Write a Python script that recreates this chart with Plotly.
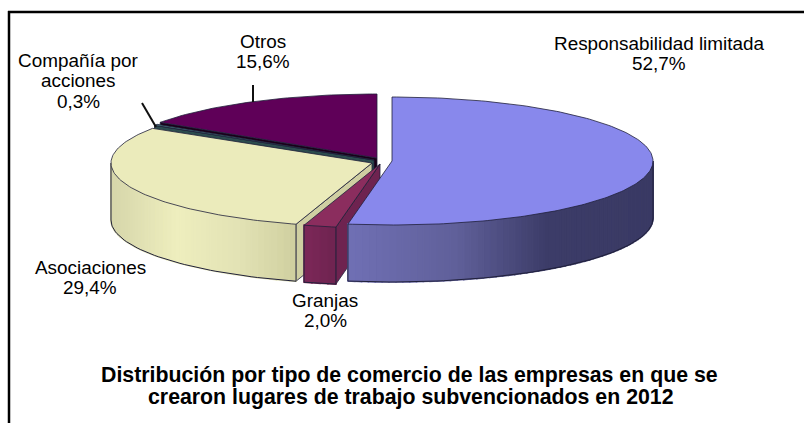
import math
import plotly.graph_objects as go

# ---- data ----
categories = ["Responsabilidad limitada", "Granjas", "Asociaciones", "Compañía por acciones", "Otros"]
shares = [52.7, 2.0, 29.4, 0.3, 15.6]
title_lines = ["Distribución por tipo de comercio de las empresas en que se",
               "crearon lugares de trabajo subvencionados en 2012"]

# ---- styles and layout (separate from the data) ----
W, H = 804, 423
RX, RY, DEPTH = 261.0, 64.0, 57.0
centres = [(392, 161), (380, 164), (372, 163), (374, 160), (377, 158)]
top_colors = ["#8888EC", "#8B2D5E", "#EBEBBB", "#4E8688", "#5F0058"]
radial_colors = ["#3A3A66", "#6E2350", "#CFCFA2", "#2C4C4E", "#1A0018"]
side_stops = [
    [(0.0, "#7070B4"), (0.35, "#60609A"), (0.65, "#3C3C68"), (1.0, "#3A3A64")],
    [(0.0, "#7C2858"), (1.0, "#6E2350")],
    [(0.0, "#D6D6AA"), (0.35, "#EEEEBE"), (0.7, "#E2E2B4"), (1.0, "#CFCF9F")],
    [(0.0, "#2C4C4E"), (1.0, "#2C4C4E")],
    [(0.0, "#2E002A"), (1.0, "#2E002A")],
]
label_lines = [["Responsabilidad limitada", "{}"], ["Granjas", "{}"], ["Asociaciones", "{}"],
               ["Compañía por", "acciones", "{}"], ["Otros", "{}"]]
label_pos = [(659, 43), (325, 300), (90, 267), (78, 60), (263, 41)]
leader_x = [[253, 253], [142, 156]]
leader_y = [[85, 102], [103, 127]]
LABEL_SIZE = 18.9
TITLE_SIZE = 21.3
LINE_GAP = 20.5
FONT = "Liberation Sans"
OUTLINE = "#20203A"


def hex2rgb(h):
    return tuple(int(h[i:i + 2], 16) for i in (1, 3, 5))


def ramp(stops, f):
    for (a, ca), (b, cb) in zip(stops, stops[1:]):
        if f <= b:
            k = (f - a) / (b - a) if b > a else 0
            ra, rb = hex2rgb(ca), hex2rgb(cb)
            return "rgb({},{},{})".format(*[round(u + (v - u) * k) for u, v in zip(ra, rb)])
    return stops[-1][1]


def pt(c, t, dz=0.0):
    return c[0] + RX * math.sin(t), c[1] - RY * math.cos(t) + dz


def arc(c, t0, t1, dz=0.0, step=math.radians(1.0)):
    n = max(2, int(abs(t1 - t0) / step) + 1)
    return [pt(c, t0 + (t1 - t0) * i / (n - 1), dz) for i in range(n)]


def poly(fig, pts, fill, line=None, width=1.0):
    xs = [p[0] for p in pts] + [pts[0][0]]
    ys = [p[1] for p in pts] + [pts[0][1]]
    fig.add_trace(go.Scatter(x=xs, y=ys, mode="lines", fill="toself", fillcolor=fill,
                             line=dict(color=line or fill, width=width),
                             hoverinfo="skip", showlegend=False))


def stroke(fig, pts, color=OUTLINE, width=1.0):
    fig.add_trace(go.Scatter(x=[p[0] for p in pts], y=[p[1] for p in pts], mode="lines",
                             line=dict(color=color, width=width), hoverinfo="skip", showlegend=False))


# slice angles, clockwise from the top
total = sum(shares)
bounds = [0.0]
for v in shares:
    bounds.append(bounds[-1] + v / total * 2 * math.pi)

fig = go.Figure()


def draw_slice(i):
    c = centres[i]
    t0, t1 = bounds[i], bounds[i + 1]
    apex = (c[0], c[1])
    apex_low = (c[0], c[1] + DEPTH)
    # wall on the clockwise-start side of every wedge left of the centre faces the viewer
    if t0 > math.pi / 2 and i != 0:
        a, b = pt(c, t0), pt(c, t0, DEPTH)
        poly(fig, [apex, a, b, apex_low], radial_colors[i], OUTLINE, 0.8)
    # outer rim, front half only
    lo, hi = max(t0, math.pi / 2), min(t1, 3 * math.pi / 2)
    if hi > lo:
        pts = arc(c, lo, hi, step=math.radians(1.5))
        xs = [p[0] for p in pts]
        xmin, xmax = min(xs), max(xs)
        for p, q in zip(pts, pts[1:]):
            f = ((p[0] + q[0]) / 2 - xmin) / max(xmax - xmin, 1e-6)
            col = ramp(side_stops[i], f)
            poly(fig, [p, q, (q[0], q[1] + DEPTH), (p[0], p[1] + DEPTH)], col, col, 1.6)
        low = [(p[0], p[1] + DEPTH) for p in pts]
        stroke(fig, low)
        stroke(fig, [pts[0], low[0]])
        stroke(fig, [pts[-1], low[-1]])
    # top face
    rim = arc(c, t0, t1)
    poly(fig, [apex] + rim, top_colors[i], OUTLINE, 0.8)


# back-to-front
for i in (4, 3, 2, 1, 0):
    draw_slice(i)

for lx, ly in zip(leader_x, leader_y):
    fig.add_trace(go.Scatter(x=lx, y=ly, mode="lines", line=dict(color="#101010", width=2),
                             hoverinfo="skip", showlegend=False))

ann = []
for lines, v, (x, y) in zip(label_lines, shares, label_pos):
    for k, s in enumerate(lines):
        ann.append(dict(x=x, y=y + k * LINE_GAP, text=s.format(f"{v:.1f}".replace(".", ",") + "%"),
                        showarrow=False, xanchor="center", yanchor="middle",
                        font=dict(family=FONT, size=LABEL_SIZE, color="#000000")))
for k, s in enumerate(title_lines):
    ann.append(dict(x=409 + k * 2, y=375 + k * 22, text="<b>" + s + "</b>", showarrow=False,
                    xanchor="center", yanchor="middle",
                    font=dict(family=FONT, size=TITLE_SIZE, color="#000000")))

shapes = [
    dict(type="line", x0=9, x1=9, y0=11, y1=H, line=dict(color="#000", width=2.5)),
    dict(type="line", x0=8, x1=W, y0=12, y1=12, line=dict(color="#000", width=2.5)),
]

fig.update_layout(
    width=W, height=H, margin=dict(l=0, r=0, t=0, b=0), autosize=False,
    paper_bgcolor="white", plot_bgcolor="white", showlegend=False,
    xaxis=dict(range=[0, W], visible=False, fixedrange=True),
    yaxis=dict(range=[H, 0], visible=False, fixedrange=True),
    annotations=ann, shapes=shapes,
)
fig.write_html("out.html", config=dict(displayModeBar=False),
               post_script="document.body.style.margin='0';document.documentElement.style.overflow='hidden';")
